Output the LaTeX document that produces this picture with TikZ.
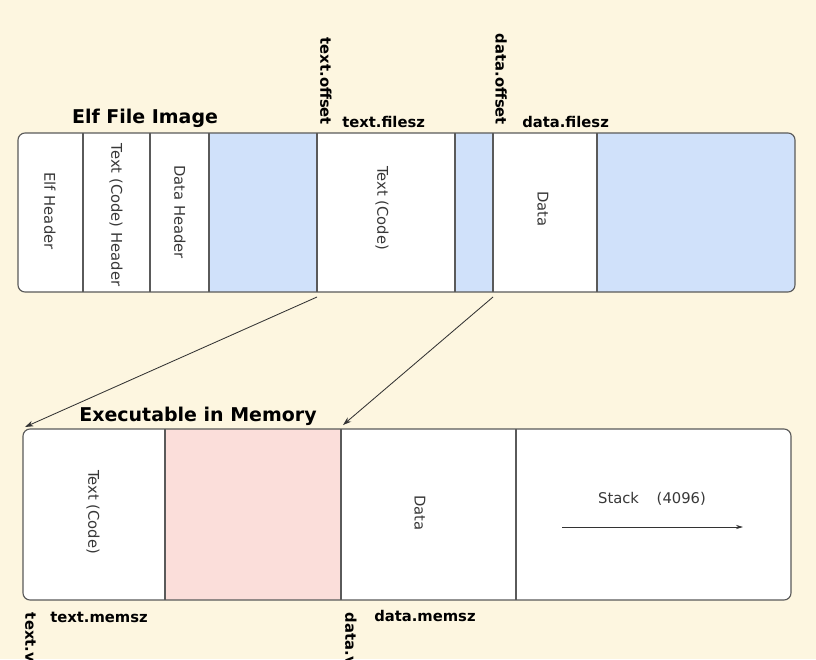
\documentclass[tikz,border=0pt]{standalone}
\usepackage{fontspec}
\setmainfont{DejaVu Sans}
\usetikzlibrary{arrows.meta}
\definecolor{paper}{RGB}{253,246,224}
\definecolor{fileblue}{RGB}{208,225,250}
\definecolor{mempink}{RGB}{251,222,218}
\definecolor{edge}{RGB}{90,90,90}
\tikzset{
  seg/.style={draw=edge, line width=0.8pt},
  vlabel/.style={rotate=-90, font=\fontsize{10.5}{12}\selectfont, text=black!78},
  tag/.style={font=\bfseries\fontsize{10.5}{12}\selectfont},
  title/.style={font=\bfseries\fontsize{13.5}{16}\selectfont},
  map/.style={-{Stealth[length=6pt,width=4pt]}, draw=black!80, line width=0.6pt},
}
\begin{document}
\begin{tikzpicture}[x=0.025cm, y=-0.025cm]
    \fill[paper] (0,0) rectangle (816,659);
    \useasboundingbox (0,0) rectangle (816,659);
    % elf file image
    \begin{scope}
        \clip[rounded corners=5] (18,133) rectangle (795,292);
        \fill[white] (18,133) rectangle (795,292);
        \fill[fileblue] (209,133) rectangle (317,292);
        \fill[fileblue] (455,133) rectangle (493,292);
        \fill[fileblue] (597,133) rectangle (795,292);
    \end{scope}
    \draw[seg, rounded corners=5] (18,133) rectangle (795,292);
    \foreach \x in {83, 150, 209, 317, 455, 493, 597}
        \draw[seg] (\x,133) -- (\x,292);
    \node[vlabel] (elfhdr) at (50,211) {Elf Header};
    \node[vlabel] (texthdr) at (116,215) {Text (Code) Header};
    \node[vlabel] (datahdr) at (180,212) {Data Header};
    \node[vlabel] (textseg) at (382,208) {Text (Code)};
    \node[vlabel] (dataseg) at (543,209) {Data};
    \node[title, anchor=base] (filetitle) at (145,123) {Elf File Image};
    \node[tag, rotate=-90, anchor=east] (textoff) at (326,130) {text.offset};
    \node[tag, anchor=base west, inner xsep=0pt] (textfsz) at (342,127) {text.filesz};
    \node[tag, rotate=-90, anchor=east] (dataoff) at (501,130) {data.offset};
    \node[tag, anchor=base west, inner xsep=0pt] (datafsz) at (522,127) {data.filesz};
    % executable in memory
    \begin{scope}
        \clip[rounded corners=5] (23,429) rectangle (791,600);
        \fill[white] (23,429) rectangle (791,600);
        \fill[mempink] (165,429) rectangle (341,600);
    \end{scope}
    \draw[seg, rounded corners=5] (23,429) rectangle (791,600);
    \foreach \x in {165, 341, 516}
        \draw[seg] (\x,429) -- (\x,600);
    \node[vlabel] (memtext) at (93,512) {Text (Code)};
    \node[vlabel] (memdata) at (420,513) {Data};
    \node[font=\fontsize{10.5}{12}\selectfont, text=black!78] (stack) at (652,499) {Stack\hspace{1.2em}(4096)};
    \coordinate (stackL) at (562,527);
    \coordinate (stackR) at (743,527);
    \draw[-{Stealth[length=5pt,width=3pt]}, draw=black!80, line width=0.6pt] (stackL) -- (stackR);
    \node[title, anchor=base] (memtitle) at (198,421) {Executable in Memory};
    \node[tag, anchor=base west, inner xsep=0pt] (textmsz) at (50,622) {text.memsz};
    \node[tag, rotate=-90, anchor=west] (textva) at (31,608) {text.vaddr};
    \node[tag, anchor=base west, inner xsep=0pt] (datamsz) at (374,621) {data.memsz};
    \node[tag, rotate=-90, anchor=west] (datava) at (351,608) {data.vaddr};
    % mapping
    \coordinate (toff) at (317,297);
    \coordinate (doff) at (493,297);
    \coordinate (tva) at (25,427);
    \coordinate (dva) at (343,425);
    \draw[map] (toff) -- (tva);
    \draw[map] (doff) -- (dva);
\end{tikzpicture}
\end{document}
